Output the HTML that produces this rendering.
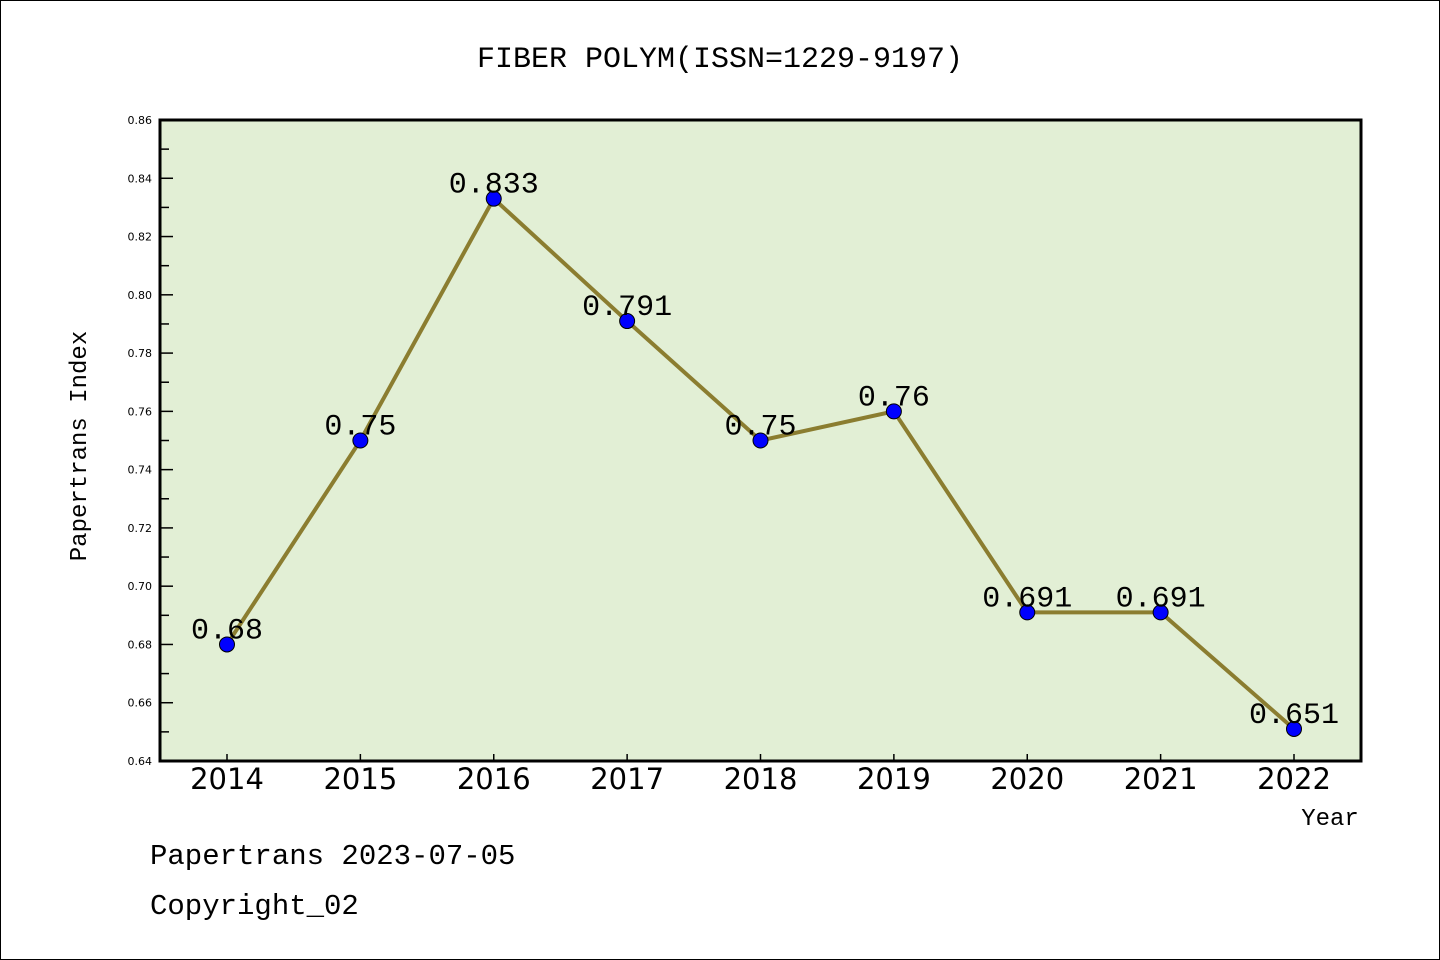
<!DOCTYPE html>
<html><head><meta charset="utf-8"><style>
body{margin:0;background:#fff}
svg{display:block}
text{font-family:"Liberation Mono","WenQuanYi Zen Hei",monospace}
</style></head><body>
<svg width="1440" height="960">
<rect x="0.5" y="0.5" width="1439" height="959" fill="#fff" stroke="#000"/>
<text x="720" y="67" text-anchor="middle" font-size="30">FIBER POLYM(ISSN=1229-9197)</text>
<rect x="160" y="120" width="1201" height="641" fill="#e2efd5"/>
<g id="axes"></g>
<g id="series"></g>
<rect x="160" y="120" width="1201" height="641" fill="none" stroke="#000" stroke-width="3"/>
<text x="86" y="446" text-anchor="middle" font-size="24" transform="rotate(-90 86 446)">Papertrans Index</text>
<text x="1330" y="825" text-anchor="middle" font-size="24">Year</text>
<text x="150" y="864" font-size="29">Papertrans 2023-07-05</text>
<text x="150" y="914" font-size="29">Copyright_02</text>
</svg>
<script>
const years=["2014","2015","2016","2017","2018","2019","2020","2021","2022"];
const values=[0.68,0.75,0.833,0.791,0.75,0.76,0.691,0.691,0.651];
const valueLabels=["0.68","0.75","0.833","0.791","0.75","0.76","0.691","0.691","0.651"];
const yTicks=[0.64,0.66,0.68,0.70,0.72,0.74,0.76,0.78,0.80,0.82,0.84,0.86];
const NS="http://www.w3.org/2000/svg";
const x=i=>227+i*(1294-227)/8;
const y=v=>761-(v-0.64)/(0.22)*641;
function mk(t,a,p){const e=document.createElementNS(NS,t);for(const k in a)e.setAttribute(k,a[k]);p.appendChild(e);return e;}
const ax=document.getElementById('axes');
yTicks.forEach((v,i)=>{
  const t=mk('line',{x1:160,x2:173,y1:y(v),y2:y(v),stroke:'#000','stroke-width':1.5},ax);
  
  
  const l=mk('text',{x:152,y:y(v)+4,'text-anchor':'end','font-size':11,style:'font-family:"DejaVu Sans",sans-serif'},ax);
  l.textContent=v.toFixed(2);
  
  
  if(i<yTicks.length-1){
    const m=mk('line',{x1:160,x2:169,y1:y(v+0.01),y2:y(v+0.01),stroke:'#000','stroke-width':1.5},ax);
    
    
  }
});
years.forEach((yr,i)=>{
  const t=mk('line',{x1:x(i),x2:x(i),y1:761,y2:754,stroke:'#000','stroke-width':1.5},ax);
  
  
  const l=mk('text',{x:x(i),y:789,'text-anchor':'middle','font-size':29,style:'font-family:"DejaVu Sans",sans-serif'},ax);
  l.textContent=yr;
  
  
});
const s=document.getElementById('series');
const line=mk('polyline',{points:values.map((v,i)=>x(i)+','+y(v)).join(' '),fill:'none',stroke:'#8b7d30','stroke-width':4},s);


values.forEach((v,i)=>{
  const c=mk('circle',{cx:x(i),cy:y(v),r:7.5,fill:'#0000ff',stroke:'#000','stroke-width':1},s);
  
  
  const l=mk('text',{x:x(i),y:y(v)-6,'text-anchor':'middle','font-size':30},s);
  l.textContent=valueLabels[i];
  
  
});
</script>
</body></html>
